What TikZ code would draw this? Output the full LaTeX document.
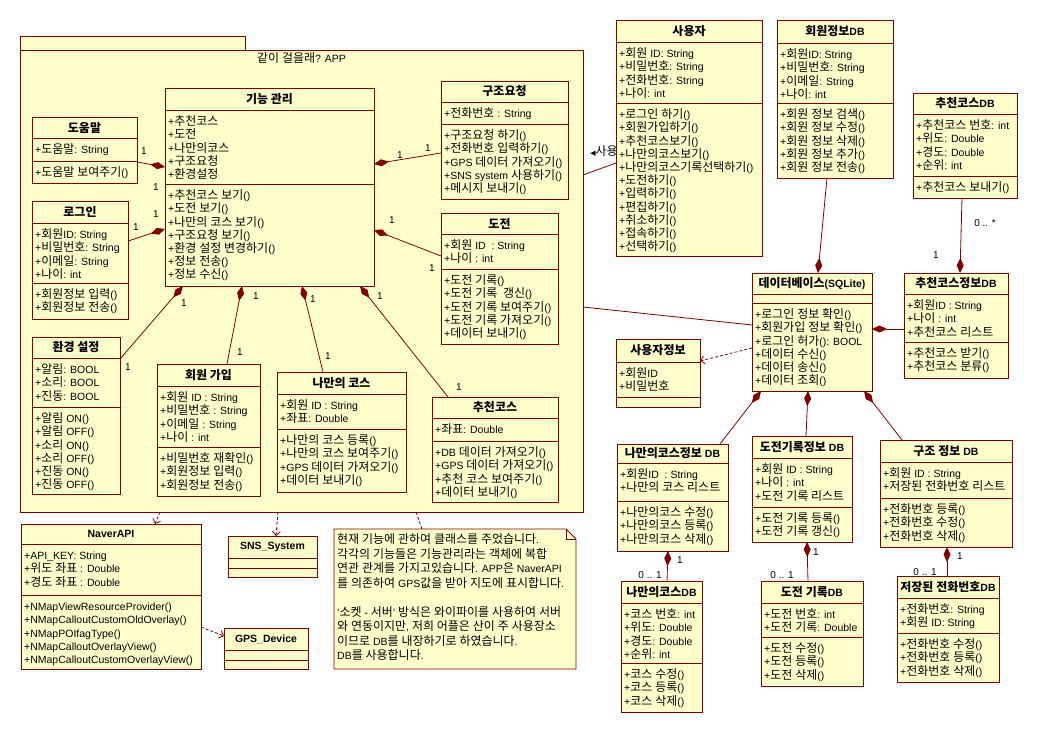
\documentclass[tikz,border=0pt]{standalone}
\usepackage{fontspec}
\setmainfont{Liberation Sans}
\newfontfamily\hangulfont[Scale=1.14]{Noto Sans CJK KR}
\newfontfamily\symfont{DejaVu Sans}
% Hangul syllables are set in the CJK family, everything else in the Latin one
\XeTeXinterchartokenstate=1
\newXeTeXintercharclass\HangulCls
\newcount\hcnt
\hcnt="AC00
\loop
  \XeTeXcharclass\hcnt=\HangulCls
  \advance\hcnt by 1
\ifnum\hcnt<"D7A4 \repeat
\XeTeXinterchartoks 0 \HangulCls = {\begingroup\hangulfont}
\XeTeXinterchartoks 4095 \HangulCls = {\begingroup\hangulfont}
\XeTeXinterchartoks \HangulCls 0 = {\endgroup}
\XeTeXinterchartoks \HangulCls 4095 = {\endgroup}
\usetikzlibrary{arrows.meta}
\definecolor{umlline}{RGB}{128,0,0}
\definecolor{umlfill}{RGB}{255,255,204}
\tikzset{
  classbox/.style={draw=umlline, fill=umlfill, line width=0.9pt, inner sep=0pt, outer sep=0pt},
  classline/.style={draw=umlline, line width=0.9pt},
  titletext/.style={font=\fontsize{10.5}{12}\selectfont\bfseries, inner sep=0pt},
  membertext/.style={font=\fontsize{10.5}{13.2}\selectfont, align=left, inner sep=0pt, anchor=north west},
  notetext/.style={font=\fontsize{10.5}{14.5}\selectfont, align=left, inner sep=0pt, anchor=north west},
  mult/.style={font=\fontsize{10}{11}\selectfont, inner sep=0pt},
  compose/.style={draw=umlline, line width=0.8pt, -{Diamond[length=15pt,width=7pt,fill=umlline]}},
  assoc/.style={draw=umlline, line width=0.8pt},
  depend/.style={draw=umlline, line width=0.8pt, dash pattern=on 3pt off 2pt,
    -{Straight Barb[length=4pt,width=8pt]}},
}
% class box: id, NW corner, width, height, title rule, attribute rule, title, attributes, operations
\newcommand\umlclass[9]{%
  \node[classbox, minimum width=#3, minimum height=#4, anchor=north west] (#1) at #2 {};
  \draw[classline] ([yshift=-#5]#1.north west) -- ([yshift=-#5]#1.north east);
  \draw[classline] ([yshift=-#6]#1.north west) -- ([yshift=-#6]#1.north east);
  \node[titletext] (#1-t) at ([yshift={-0.5*#5}]#1.north) {#7};
  \node[membertext] (#1-a) at ([xshift=3, yshift={-#5-5}]#1.north west) {\rule{0pt}{10.5pt}#8};
  \node[membertext] (#1-o) at ([xshift=3, yshift={-#6-5}]#1.north west) {\rule{0pt}{10.5pt}#9};
}
\begin{document}
\begin{tikzpicture}[x=1pt, y=-1pt]
\fill[white] (0,0) rectangle (1037,733);
\useasboundingbox (0,0) rectangle (1037,733);

% package frame
\node[classbox, minimum width=225, minimum height=14, anchor=north west] (pkgtab) at (20,36) {};
\node[classbox, minimum width=563, minimum height=462, anchor=north west] (pkg) at (20,50) {};
\node[font=\fontsize{10.5}{12}\selectfont, inner sep=0pt] (pkgt) at ([yshift=-8]pkg.north) {같이 걸을래? APP};

% note
\node[minimum width=242, minimum height=140, inner sep=0pt, outer sep=0pt, anchor=north west] (note) at (334,529) {};
\draw[classline, fill=umlfill] (note.north west) -- ([xshift=-10]note.north east) -- ([yshift=-10]note.north east)
  -- (note.south east) -- (note.south west) -- cycle;
\draw[classline, line width=0.6pt] ([xshift=-10]note.north east) -- ([xshift=-10,yshift=-10]note.north east) -- ([yshift=-10]note.north east);
\node[notetext] (note-txt) at ([xshift=3,yshift=-4]note.north west) {\rule{0pt}{10.5pt}현재 기능에 관하여 클래스를 주었습니다.\\
각각의 기능들은 기능관리라는 객체에 복합\\
연관 관계를 가지고있습니다. APP은 NaverAPI\\
를 의존하여 GPS값을 받아 지도에 표시합니다.\\[14.5pt]
'소켓 - 서버' 방식은 와이파이를 사용하여 서버\\
와 연동이지만, 저희 어플은 산이 주 사용장소\\
이므로 DB를 내장하기로 하였습니다.\\
DB를 사용합니다.};

% classes inside the package
\umlclass{dum}{(32,117)}{105}{66}{21}{44}{도움말}{+도움말: String}{+도움말 보여주기()}
\umlclass{login}{(32,201)}{96}{118}{22}{82}{로그인}{+회원ID: String\\+비밀번호: String\\+이메일: String\\+나이: int}{+회원정보 입력()\\+회원정보 전송()}
\umlclass{kg}{(165,88)}{209}{198}{22}{96}{기능 관리}{+추천코스\\+도전\\+나만의코스\\+구조요청\\+환경설정}{+추천코스 보기()\\+도전 보기()\\+나만의 코스 보기()\\+구조요청 보기()\\+환경 설정 변경하기()\\+정보 전송()\\+정보 수신()}
\umlclass{gj}{(441,81)}{127}{118}{21}{43}{구조요청}{+전화번호 : String}{+구조요청 하기()\\+전화번호 입력하기()\\+GPS 데이터 가져오기()\\+SNS system 사용하기()\\+메시지 보내기()}
\umlclass{dj}{(441,213)}{117}{131}{21}{56}{도전}{+회원 ID~ : String\\+나이 : int}{+도전 기록()\\+도전 기록~ 갱신()\\+도전 기록 보여주기()\\+도전 기록 가져오기()\\+데이터 보내기()}
\umlclass{env}{(32,337)}{88}{157}{21}{70}{환경 설정}{+알림: BOOL\\+소리: BOOL\\+진동: BOOL}{+알림 ON()\\+알림 OFF()\\+소리 ON()\\+소리 OFF()\\+진동 ON()\\+진동 OFF()}
\umlclass{join}{(157,364)}{103}{132}{22}{83}{회원 가입}{+회원 ID : String\\+비밀번호 : String\\+이메일 : String\\+나이 : int}{+비밀번호 재확인()\\+회원정보 입력()\\+회원정보 전송()}
\umlclass{myc}{(277,372)}{129}{120}{22}{57}{나만의 코스}{+회원 ID : String\\+좌표: Double}{+나만의 코스 등록()\\+나만의 코스 보여주기()\\+GPS 데이터 가져오기()\\+데이터 보내기()}
\umlclass{rec}{(432,397)}{126}{105}{21}{44}{추천코스}{+좌표: Double}{+DB 데이터 가져오기()\\+GPS 데이터 가져오기()\\+추천 코스 보여주기()\\+데이터 보내기()}

% classes outside the package
\umlclass{user}{(616,20)}{146}{236}{22}{83}{사용자}{+회원 ID: String\\+비밀번호: String\\+전화번호: String\\+나이: int}{+로그인 하기()\\+회원가입하기()\\+추천코스보기()\\+나만의코스보기()\\+나만의코스기록선택하기()\\+도전하기()\\+입력하기()\\+편집하기()\\+취소하기()\\+접속하기()\\+선택하기()}
\umlclass{mdb}{(777,20)}{116}{158}{23}{83}{회원정보DB}{+회원ID: String\\+비밀번호: String\\+이메일: String\\+나이: int}{+회원 정보 검색()\\+회원 정보 수정()\\+회원 정보 삭제()\\+회원 정보 추가()\\+회원 정보 전송()}
\umlclass{cdb}{(913,93)}{104}{105}{21}{83}{추천코스DB}{+추천코스 번호: int\\+위도: Double\\+경도: Double\\+순위: int}{+추천코스 보내기()}
\umlclass{db}{(752,273)}{120}{118}{21}{30}{데이터베이스(SQLite)}{}{+로그인 정보 확인()\\+회원가입 정보 확인()\\+로그인 허가(): BOOL\\+데이터 수신()\\+데이터 송신()\\+데이터 조회()}
\umlclass{cidb}{(904,273)}{104}{105}{21}{69}{추천코스정보DB}{+회원ID : String\\+나이 : int\\+추천코스 리스트}{+추천코스 받기()\\+추천코스 분류()}
\umlclass{uinfo}{(616,339)}{84}{68}{23}{58}{사용자정보}{+회원ID\\+비밀번호}{}
\umlclass{mcidb}{(617,444)}{111}{107}{19}{57}{나만의코스정보 DB}{+회원ID~ : String\\+나만의 코스 리스트}{+나만의코스 수정()\\+나만의코스 등록()\\+나만의코스 삭제()}
\umlclass{djidb}{(752,436)}{100}{106}{22}{71}{도전기록정보 DB}{+회원 ID : String\\+나이 : int\\+도전 기록 리스트}{+도전 기록 등록()\\+도전 기록 갱신()}
\umlclass{gjdb}{(880,440)}{132}{107}{22}{58}{구조 정보 DB}{+회원 ID : String\\+저장된 전화번호 리스트}{+전화번호 등록()\\+전화번호 수정()\\+전화번호 삭제()}
\umlclass{mcdb}{(621,581)}{81}{131}{22}{82}{나만의코스DB}{+코스 번호: int\\+위도: Double\\+경도: Double\\+순위: int}{+코스 수정()\\+코스 등록()\\+코스 삭제()}
\umlclass{djdb}{(761,581)}{102}{105}{22}{56}{도전 기록DB}{+도전 번호: int\\+도전 기록: Double}{+도전 수정()\\+도전 등록()\\+도전 삭제()}
\umlclass{phdb}{(897,576)}{102}{106}{22}{57}{저장된 전화번호DB}{+전화번호: String\\+회원 ID: String}{+전화번호 수정()\\+전화번호 등록()\\+전화번호 삭제()}
\umlclass{naver}{(21,524)}{180}{145}{20}{71}{NaverAPI}{+API\_KEY: String\\+위도 좌표 : Double\\+경도 좌표 : Double}{+NMapViewResourceProvider()\\+NMapCalloutCustomOldOverlay()\\+NMapPOIfagType()\\+NMapCalloutOverlayView()\\+NMapCalloutCustomOverlayView()}
\umlclass{sns}{(228,536)}{89}{41}{22}{32}{SNS\_System}{}{}
\umlclass{gps}{(224,628)}{84}{41}{22}{32}{GPS\_Device}{}{}

% compositions into the feature manager
\draw[compose] ([yshift=-45]dum.north east) -- ([yshift=-79]kg.north west);
\draw[compose] ([yshift=-40]login.north east) -- ([yshift=-141]kg.north west);
\draw[compose] ([yshift=-72]gj.north west) -- ([yshift=-76]kg.north east);
\draw[compose] ([yshift=-43]dj.north west) -- ([yshift=-142]kg.north east);
\draw[compose] ([yshift=-22]env.north east) -- ([xshift=18]kg.south west);
\draw[compose] ([xshift=70]join.north west) -- ([xshift=77]kg.south west);
\draw[compose] ([xshift=46]myc.north west) -- ([xshift=137]kg.south west);
\draw[compose] ([xshift=16]rec.north west) -- ([xshift=-14]kg.south east);

% package associations
\draw[assoc] ([yshift=-125]pkg.north east) -- ([yshift=-143]user.north west);
\node[font=\fontsize{10.5}{12}\selectfont, inner sep=0pt] (uselbl) at (604,151) {{\symfont\fontsize{7}{8}\selectfont ◀}사용};
\draw[assoc] ([yshift=-257]pkg.north east) -- ([yshift=-52]db.north west);
\draw[depend] ([yshift=-75]db.north west) -- ([yshift=-22]uinfo.north east);

% database compositions
\draw[compose] ([xshift=50]mdb.south west) -- ([xshift=66]db.north west);
\draw[compose] ([xshift=49]cdb.south west) -- ([xshift=56]cidb.north west);
\draw[compose] ([yshift=-56]cidb.north west) -- ([yshift=-56]db.north east);
\draw[compose] ([xshift=103]mcidb.north west) -- ([xshift=9]db.south west);
\draw[compose] ([xshift=54]djidb.north west) -- ([xshift=56]db.south west);
\draw[compose] ([xshift=22]gjdb.north west) -- ([xshift=112]db.south west);
\draw[compose] ([xshift=46]mcdb.north west) -- ([xshift=51]mcidb.south west);
\draw[compose] ([xshift=47]djdb.north west) -- ([xshift=55]djidb.south west);
\draw[compose] ([xshift=50]phdb.north west) -- ([xshift=67]gjdb.south west);

% dependencies below the package
\draw[depend] ([xshift=140]pkg.south west) -- ([xshift=134]naver.north west);
\draw[depend] ([xshift=258]pkg.south west) -- ([xshift=48]sns.north west);
\draw[assoc, dash pattern=on 3pt off 2pt] ([xshift=396]pkg.south west) -- ([xshift=88]note.north west);
\draw[depend] ([yshift=-103]naver.north east) -- ([yshift=-8]gps.north west);

% multiplicities
\foreach \x/\y/\t [count=\i] in {144/151/1, 156/187/1, 136/227/1, 156/214/1, 400/155/1, 428/148/1,
  392/220/1, 432/268/1, 128/367/1, 184/303/1, 256/296/1, 240/352/1, 313/299/1, 328/356/1,
  380/296/1, 459/387/1, 985/223/0 .. *, 936/255/1, 680/560/1, 650/575/0 .. 1, 816/552/1,
  782/575/0 .. 1, 960/556/1, 925/572/0 .. 1}
  \node[mult] (mult\i) at (\x,\y) {\t};
\end{tikzpicture}
\end{document}
